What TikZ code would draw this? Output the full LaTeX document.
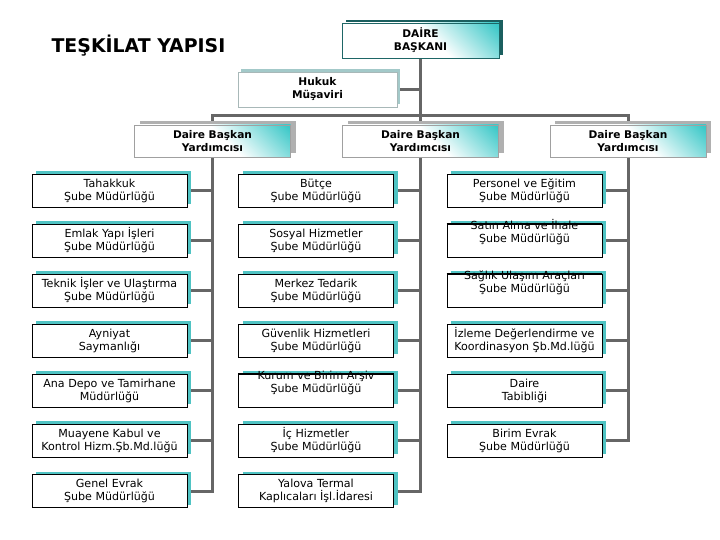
\documentclass[tikz,border=0pt]{standalone}
\usepackage{fontspec}
\setmainfont{DejaVu Sans}
\usetikzlibrary{shadows}
\pgfdeclarelayer{bg}
\pgfsetlayers{bg,main}
\definecolor{gtea}{HTML}{3CC8C8}
\definecolor{shteal}{HTML}{4FC3C3}
\definecolor{dbborder}{HTML}{1E6666}
\definecolor{dbshadow}{HTML}{1B5F5F}
\definecolor{hukshadow}{HTML}{A3C9C9}
\definecolor{hukborder}{HTML}{A8B8B8}
\definecolor{dbyshadow}{HTML}{B0B0B0}
\definecolor{dbyborder}{HTML}{A0A0A0}
\definecolor{lgray}{HTML}{666666}
\pgfdeclarehorizontalshading{tealfade}{100bp}{color(0bp)=(white); color(55bp)=(white); color(84bp)=(gtea); color(100bp)=(gtea)}
\newcommand{\chfont}{\fontsize{11.1}{13}\selectfont}
\newcommand{\hdfont}{\fontsize{10.6}{13}\selectfont\bfseries}
\begin{document}
\begin{tikzpicture}[x=1pt,y=-1pt,
  conn/.style={draw=lgray, line width=3pt},
  child/.style={draw=black, line width=0.8pt, fill=white, minimum width=155pt, minimum height=33pt, inner sep=0pt, align=center, font=\chfont,
    drop shadow={opacity=1, fill=shteal, draw=none, shadow xshift=4pt, shadow yshift=3pt}},
  txt/.style={align=center, font=\chfont, inner sep=0pt},
  headbox/.style={line width=0.8pt, shading=tealfade, shading angle=45, inner sep=0pt, align=center, font=\hdfont},
  dbbox/.style={headbox, draw=dbborder, minimum width=157pt, minimum height=35pt,
    drop shadow={opacity=1, fill=dbshadow, draw=none, shadow xshift=4pt, shadow yshift=3pt}},
  dbybox/.style={headbox, draw=dbyborder, minimum width=156pt, minimum height=32pt,
    drop shadow={opacity=1, fill=dbyshadow, draw=none, shadow xshift=5pt, shadow yshift=4pt}},
  hukbox/.style={draw=hukborder, fill=white, line width=0.8pt, inner sep=0pt, align=center, font=\hdfont, minimum width=159pt, minimum height=35pt,
    drop shadow={opacity=1, fill=hukshadow, draw=none, shadow xshift=3pt, shadow yshift=3pt}}
]
\useasboundingbox (0,0) rectangle (720,540);

% title
\node[font=\fontsize{18.9}{22}\selectfont\bfseries, inner sep=0pt] (title) at (138.5,46) {TEŞKİLAT YAPISI};

% ---- head boxes
\node[dbbox] (db) at (420.5,40.5) {DAİRE\\BAŞKANI};
\node[hukbox] (huk) at (317.5,89.5) {Hukuk\\Müşaviri};
\node[dbybox] (dby1) at (212.5,141) {Daire Başkan\\Yardımcısı};
\node[dbybox] (dby2) at (420.5,141) {Daire Başkan\\Yardımcısı};
\node[dbybox] (dby3) at (628,141) {Daire Başkan\\Yardımcısı};

% ---- child boxes
\node[child] (l1) at (109.5,190.5) {Tahakkuk\\Şube Müdürlüğü};
\node[child] (l2) at (109.5,240.5) {Emlak Yapı İşleri\\Şube Müdürlüğü};
\node[child] (l3) at (109.5,290.5) {Teknik İşler ve Ulaştırma\\Şube Müdürlüğü};
\node[child] (l4) at (109.5,340.5) {Ayniyat\\Saymanlığı};
\node[child] (l5) at (109.5,390.5) {Ana Depo ve Tamirhane\\Müdürlüğü};
\node[child] (l6) at (109.5,440.5) {Muayene Kabul ve\\Kontrol Hizm.Şb.Md.lüğü};
\node[child] (l7) at (109.5,491) {Genel Evrak\\Şube Müdürlüğü};

\node[child] (m1) at (316,190.5) {Bütçe\\Şube Müdürlüğü};
\node[child] (m2) at (316,240.5) {Sosyal Hizmetler\\Şube Müdürlüğü};
\node[child] (m3) at (316,290.5) {Merkez Tedarik\\Şube Müdürlüğü};
\node[child] (m4) at (316,340.5) {Güvenlik Hizmetleri\\Şube Müdürlüğü};
\node[child] (m5) at (316,390.5) {};
\node[child] (m6) at (316,440.5) {İç Hizmetler\\Şube Müdürlüğü};
\node[child] (m7) at (316,491) {Yalova Termal\\Kaplıcaları İşl.İdaresi};

\node[child] (r1) at (524.5,190.5) {Personel ve Eğitim\\Şube Müdürlüğü};
\node[child] (r2) at (524.5,240.5) {};
\node[child] (r3) at (524.5,290.5) {};
\node[child] (r4) at (524.5,340.5) {İzleme Değerlendirme ve\\Koordinasyon Şb.Md.lüğü};
\node[child] (r5) at (524.5,390.5) {Daire\\Tabibliği};
\node[child] (r6) at (524.5,440.5) {Birim Evrak\\Şube Müdürlüğü};

% texts that rise over the top edge of their boxes
\node[txt, yshift=8pt] (tm5) at (m5) {Kurum ve Birim Arşiv\\Şube Müdürlüğü};
\node[txt, yshift=8pt] (tr2) at (r2) {Satın Alma ve İhale\\Şube Müdürlüğü};
\node[txt, yshift=8pt] (tr3) at (r3) {Sağlık Ulaşım Araçları\\Şube Müdürlüğü};
\foreach \n in {m5,r2,r3} \draw[black, line width=0.8pt] (\n.north west) -- (\n.north east);

% ---- connectors, behind everything
\begin{pgfonlayer}{bg}
\coordinate (barL) at (dby1 |- 0,116);
\coordinate (barR) at (dby3 |- 0,116);
\draw[conn] (l7.east) -| (barL) -- (barR) |- (r6.east);
\draw[conn] (db.south) |- (m7.east);
\draw[conn] (huk.east) -- (huk.east -| db.south);
\foreach \n in {l1,l2,l3,l4,l5,l6} \draw[conn] (\n.east) -- (\n.east -| barL);
\foreach \n in {m1,m2,m3,m4,m5,m6} \draw[conn] (\n.east) -- (\n.east -| db.south);
\foreach \n in {r1,r2,r3,r4,r5} \draw[conn] (\n.east) -- (\n.east -| barR);
\end{pgfonlayer}
\end{tikzpicture}
\end{document}
